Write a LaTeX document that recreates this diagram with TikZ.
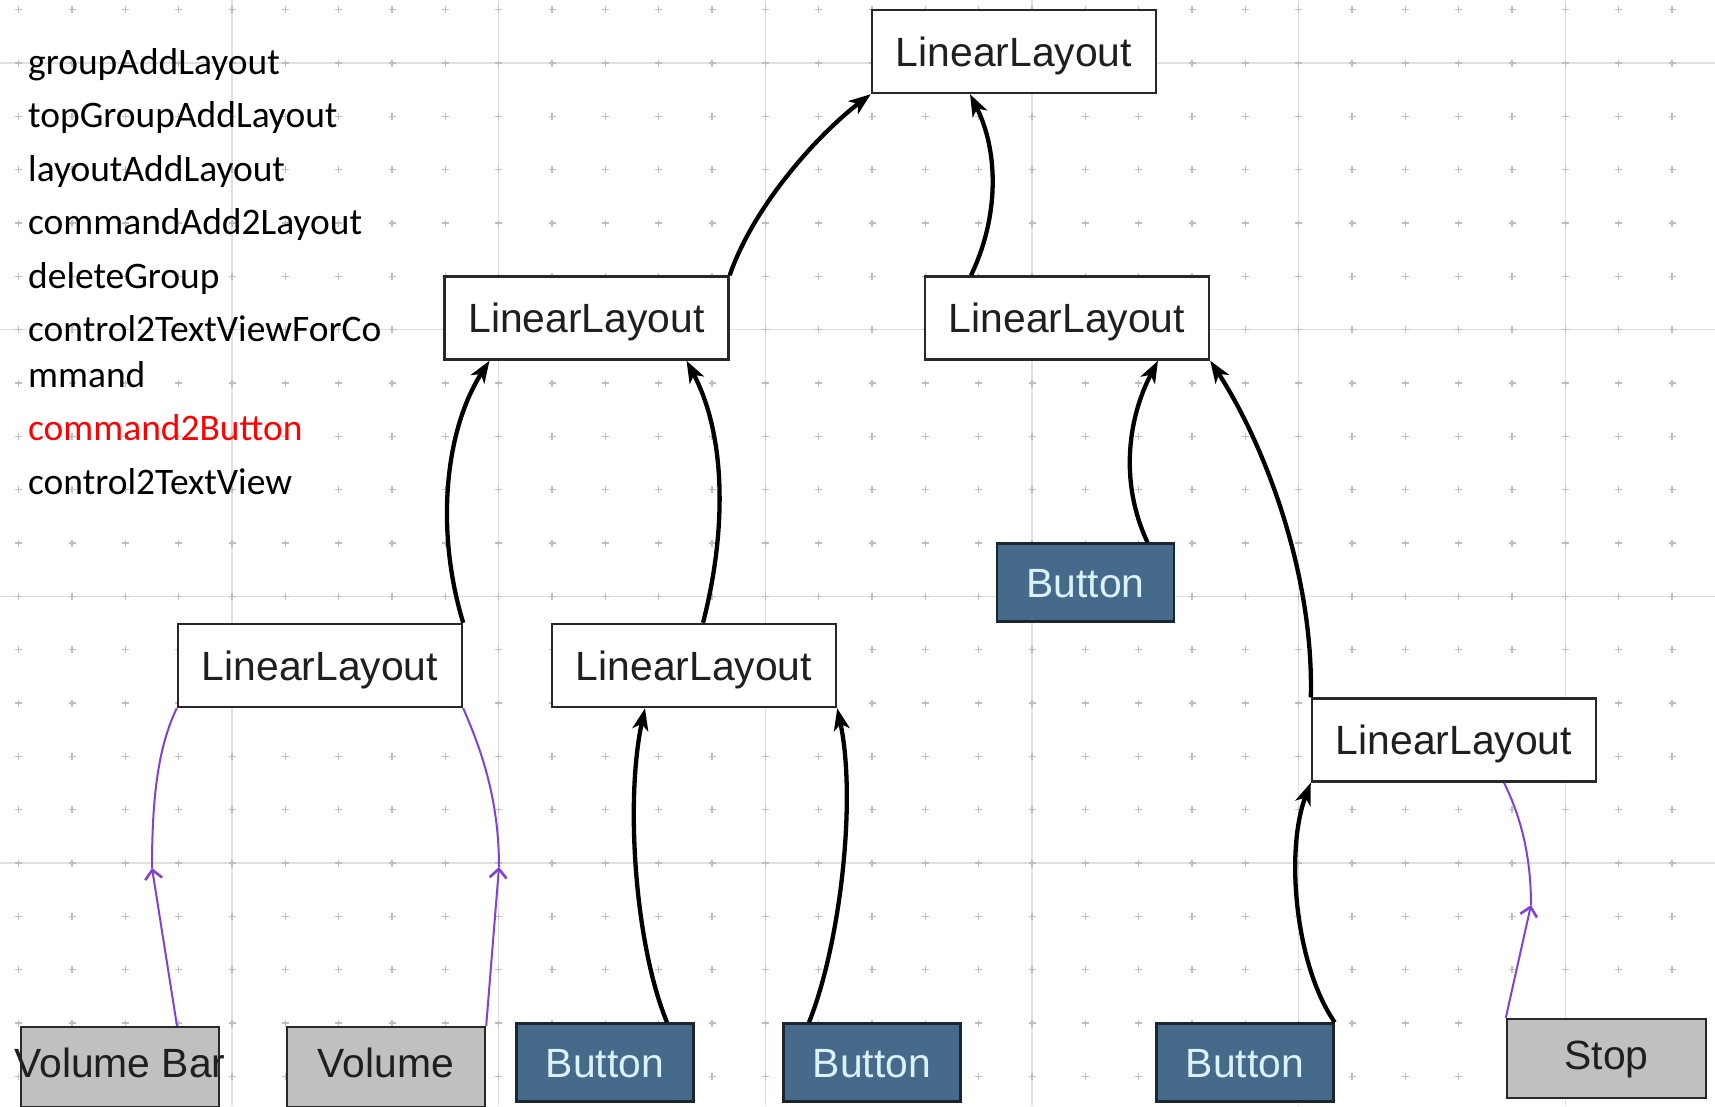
\documentclass[tikz,border=0pt]{standalone}
\usepackage{fontspec}
\setmainfont{Liberation Sans}
\newfontfamily\listfamily{Carlito}
\usetikzlibrary{arrows.meta}

\definecolor{gridline}{RGB}{224,224,224}
\definecolor{gridmark}{RGB}{190,190,190}
\definecolor{boxline}{RGB}{40,40,40}
\definecolor{btnfill}{RGB}{70,106,138}
\definecolor{btnline}{RGB}{28,38,48}
\definecolor{btntext}{RGB}{218,242,252}
\definecolor{grayfill}{RGB}{192,192,192}
\definecolor{purp}{RGB}{128,66,210}
\definecolor{listred}{RGB}{255,0,0}

\newcommand{\boxfont}{\fontsize{41pt}{48pt}\selectfont}
\newcommand{\itemfont}{\listfamily\fontsize{37.6pt}{44pt}\selectfont}

\tikzset{
  layoutbox/.style={draw=boxline, line width=2.4bp, fill=white,
    minimum width=284bp, minimum height=83bp, inner sep=0pt,
    font=\boxfont, text=black!88, text height=29.4bp, text depth=0pt},
  btnbox/.style={draw=btnline, line width=2.4bp, fill=btnfill,
    minimum width=177bp, minimum height=78bp, inner sep=0pt,
    font=\boxfont, text=btntext, text height=29.4bp, text depth=0pt},
  graybox/.style={draw=boxline, line width=2.4bp, fill=grayfill,
    minimum width=198bp, minimum height=80bp, inner sep=0pt,
    font=\boxfont, text=black!88, text height=29.4bp, text depth=0pt},
  link/.style={line width=4.3bp, black,
    -{Stealth[length=22bp,width=16bp,inset=6bp]}},
  weak/.style={line width=2bp, purp},
  weakhead/.style={weak, -{Straight Barb[length=9bp,width=17bp,line width=2.6bp]}},
  item/.style={anchor=base west, inner sep=0pt, font=\itemfont},
}

\begin{document}
\begin{tikzpicture}[x=1bp, y=-1bp]
  \useasboundingbox (0,0) rectangle (1715,1106);
  \clip (0,0) rectangle (1715,1106);
  \fill[white] (0,0) rectangle (1715,1106);

  % background grid: major lines and small cross marks
  \foreach \k in {0,...,5}
    \draw[gridline, line width=1.3bp] ({232+266.667*\k},0) -- ++(0,1106);
  \foreach \k in {0,...,3}
    \draw[gridline, line width=1.3bp] (0,{63+266.667*\k}) -- ++(1715,0);
  \foreach \i in {0,...,32}
    \foreach \j in {0,...,20}
      \draw[gridmark, line width=1.2bp]
        ({18.7+53.333*\i-3.5},{9.7+53.333*\j}) -- ++(7,0)
        ({18.7+53.333*\i},{9.7+53.333*\j-3.5}) -- ++(0,7);

  % list of operations
  \node[item] (l1) at (28,74)    {groupAddLayout};
  \node[item] (l2) at (28,127.5) {topGroupAddLayout};
  \node[item] (l3) at (28,181)   {layoutAddLayout};
  \node[item] (l4) at (28,234.5) {commandAdd2Layout};
  \node[item] (l5) at (28,288)   {deleteGroup};
  \node[item] (l6) at (28,341.5) {control2TextViewForCo};
  \node[item] (l7) at (28,387)   {mmand};
  \node[item, text=listred] (l8) at (28,440.5) {command2Button};
  \node[item] (l9) at (28,494)   {control2TextView};

  % layout tree
  \node[layoutbox] (top)  at (1014,51.5) {LinearLayout};
  \node[layoutbox] (midL) at (586.5,318) {LinearLayout};
  \node[layoutbox] (midR) at (1067,318)  {LinearLayout};
  \node[btnbox]    (btnMid) at (1085.5,582.5) {Button};
  \node[layoutbox] (lowL) at (320,665.5) {LinearLayout};
  \node[layoutbox] (lowM) at (694,665.5) {LinearLayout};
  \node[layoutbox] (lowR) at (1454,740)  {LinearLayout};

  \node[graybox] (vbar) at (120,1067) {\raisebox{4.5bp}{\makebox[0pt]{Volume Bar}}};
  \node[graybox] (vol)  at (386,1067) {\raisebox{4.5bp}{Volume}};
  \node[btnbox]  (btn1) at (605,1062.5) {Button};
  \node[btnbox]  (btn2) at (872,1062.5) {Button};
  \node[btnbox]  (btnR) at (1245,1062.5) {Button};
  \node[graybox, minimum width=199bp, minimum height=79bp] (stop) at (1606.5,1058.5) {\raisebox{3.5bp}{Stop}};

  % parent links
  \draw[link] (midL.north east) .. controls (753,207) and (817,135) .. (top.south west);
  \draw[link] ([xshift=-96bp]midR.north) .. controls (1000,215) and (998,150) .. ([xshift=-44bp]top.south);
  \draw[link] (lowL.north east) .. controls (435,530) and (445,430) .. ([xshift=-97bp]midL.south);
  \draw[link] ([xshift=9bp]lowM.north) .. controls (727,530) and (726,435) .. ([xshift=100bp]midL.south);
  \draw[link] ([xshift=62bp]btnMid.north) .. controls (1120,484) and (1127,420) .. ([xshift=91bp]midR.south);
  \draw[link] (lowR.north west) .. controls (1314,570) and (1262,440) .. (midR.south east);
  \draw[link] (btnR.north east) .. controls (1295,965) and (1285,850) .. (lowR.south west);
  \draw[link] ([xshift=62bp]btn1.north) .. controls (635,945) and (625,800) .. ([xshift=-49bp]lowM.south);
  \draw[link] ([xshift=-63bp]btn2.north) .. controls (840,945) and (857,800) .. (lowM.south east);

  % control links
  \coordinate (m1) at (152,868);
  \coordinate (m2) at (499,867);
  \coordinate (m3) at (1531,905);
  \draw[weakhead] ([xshift=57bp]vbar.north) -- (m1);
  \draw[weak] (m1) .. controls (152,798) and (158,747) .. (lowL.south west);
  \draw[weakhead] (vol.north east) -- (m2);
  \draw[weak] (m2) .. controls (499,797) and (480,747) .. (lowL.south east);
  \draw[weakhead] (stop.north west) -- (m3);
  \draw[weak] (m3) .. controls (1531,850) and (1518,811) .. ([xshift=50bp]lowR.south);
\end{tikzpicture}
\end{document}
